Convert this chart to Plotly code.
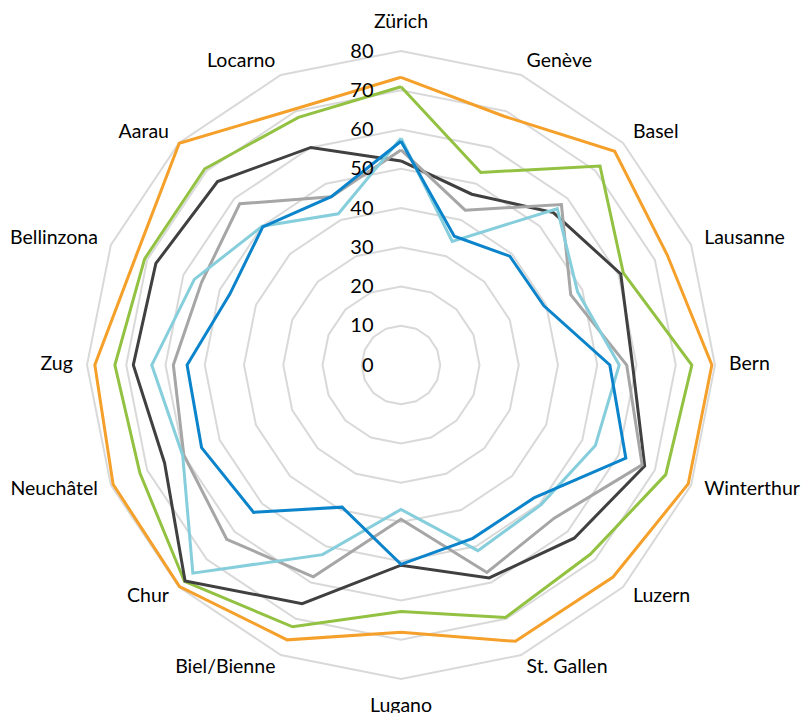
import plotly.graph_objects as go

categories = ["Zürich", "Genève", "Basel", "Lausanne", "Bern", "Winterthur", "Luzern",
              "St. Gallen", "Lugano", "Biel/Bienne", "Chur", "Neuchâtel", "Zug",
              "Bellinzona", "Aarau", "Locarno"]

orange_vals = [73.3, 68.6, 77.0, 73.4, 79.2, 79.2, 76.4, 76.2, 68.1, 75.8, 79.8, 79.4, 78.0, 73.0, 79.9, 70.6]
green_vals = [70.9, 53.1, 71.7, 61.3, 74.1, 73.0, 68.2, 69.6, 62.8, 72.2, 78.0, 72.0, 72.9, 70.7, 70.7, 68.3]
darkgray_vals = [52.0, 47.1, 54.9, 60.6, 59.0, 67.2, 62.4, 58.7, 51.0, 65.8, 77.8, 65.2, 68.2, 67.6, 66.1, 60.0]
lightgray_vals = [54.8, 42.7, 57.8, 46.8, 57.5, 66.5, 55.2, 57.2, 39.3, 58.4, 62.8, 59.9, 58.0, 55.0, 58.1, 46.4]
lightblue_vals = [57.8, 34.1, 56.3, 48.7, 55.6, 53.6, 50.4, 51.2, 36.8, 52.3, 75.0, 60.2, 63.5, 57.0, 50.0, 41.7]
blue_vals = [57.0, 35.5, 39.2, 39.4, 53.2, 62.0, 47.9, 47.8, 50.8, 39.2, 53.1, 55.0, 54.5, 47.2, 49.8, 46.4]

radial_ticks = [0, 10, 20, 30, 40, 50, 60, 70, 80]
RMAX = 80          # outer grid ring
RANGE_MAX = 88     # extra room inside the polar range for the category labels

series = [
    ("Series 1", orange_vals, "#F5A02A"),
    ("Series 2", green_vals, "#93C142"),
    ("Series 3", darkgray_vals, "#404040"),
    ("Series 4", lightgray_vals, "#A6A6A6"),
    ("Series 5", lightblue_vals, "#86CEDC"),
    ("Series 6", blue_vals, "#0B84CB"),
]

FONT = "Lato, Carlito, Calibri, sans-serif"

fig = go.Figure()
for name, vals, color in series:
    fig.add_trace(go.Scatterpolar(
        r=vals + vals[:1],
        theta=categories + categories[:1],
        mode="lines",
        name=name,
        line=dict(color=color, width=3),
        showlegend=False,
        hoverinfo="skip",
    ))

# category labels placed just outside the outer ring (Excel-like placement)
n = len(categories)
label_r, label_pos = [], []
for i in range(n):
    step = i * 360.0 / n
    if step in (0.0, 180.0):
        label_r.append(RMAX * 1.089)
        label_pos.append("middle center")
    elif step < 180:
        label_r.append(RMAX * 1.045)
        label_pos.append("middle right")
    else:
        label_r.append(RMAX * 1.045)
        label_pos.append("middle left")

fig.add_trace(go.Scatterpolar(
    r=label_r,
    theta=categories,
    mode="text",
    text=categories,
    textposition=label_pos,
    textfont=dict(size=19.5, family=FONT, color="black"),
    cliponaxis=False,
    showlegend=False,
    hoverinfo="skip",
))

W, H = 801, 713
cx, cy, R80 = 401, 365, 314
R = R80 * RANGE_MAX / RMAX
fig.update_layout(
    width=W, height=H,
    margin=dict(l=0, r=0, t=0, b=0),
    paper_bgcolor="white",
    plot_bgcolor="white",
    font=dict(family=FONT, color="black"),
    polar=dict(
        domain=dict(x=[(cx - R) / W, (cx + R) / W],
                    y=[(H - cy - R) / H, (H - cy + R) / H]),
        bgcolor="white",
        gridshape="linear",
        radialaxis=dict(
            range=[0, RANGE_MAX],
            tickvals=radial_ticks,
            angle=90,
            side="counterclockwise",
            showline=False,
            showgrid=True,
            gridcolor="#D9D9D9",
            gridwidth=1.5,
            ticks="outside",
            ticklen=20,
            tickcolor="rgba(0,0,0,0)",
            tickfont=dict(size=20, family=FONT, color="black"),
            tickangle=90,
        ),
        angularaxis=dict(
            rotation=90,
            direction="clockwise",
            showgrid=False,
            showline=False,
            showticklabels=False,
            ticks="",
        ),
    ),
)

fig.write_html("out.html", config={"displayModeBar": False},
               post_script="document.body.style.margin='0';")
